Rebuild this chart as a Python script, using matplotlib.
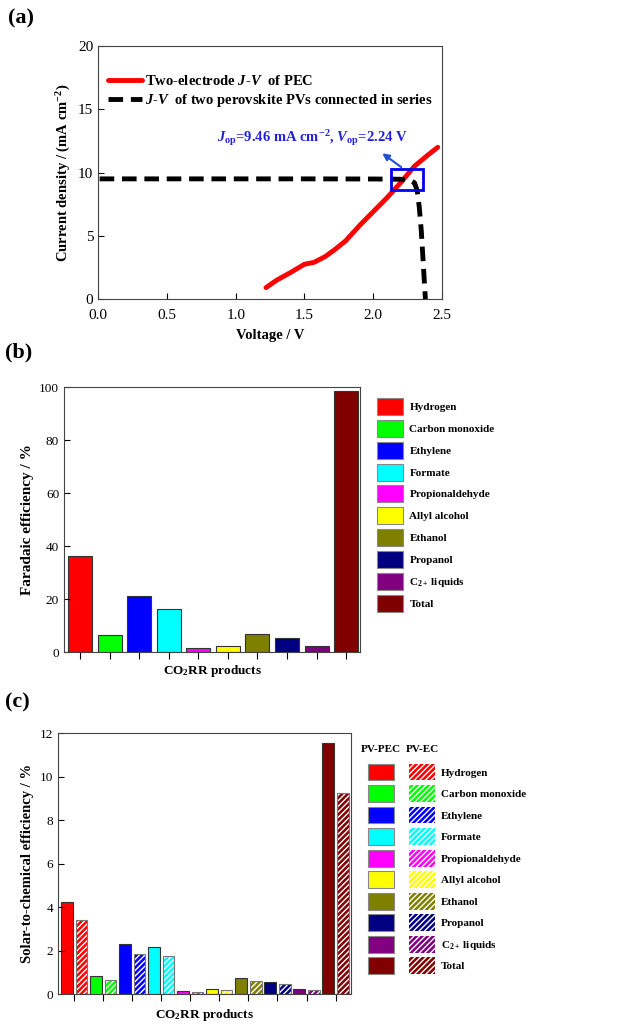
import matplotlib.pyplot as plt
import numpy as np
from matplotlib.patches import Rectangle, Patch

plt.rcParams['font.family'] = 'Liberation Serif'
plt.rcParams['mathtext.fontset'] = 'custom'
plt.rcParams['mathtext.rm'] = 'Liberation Serif:bold'
plt.rcParams['mathtext.it'] = 'Liberation Serif:italic:bold'
plt.rcParams['mathtext.bf'] = 'Liberation Serif:bold'
plt.rcParams['hatch.linewidth'] = 1.0

# (a) J-V curves
pec_v = [1.22, 1.30, 1.40, 1.50, 1.57, 1.65, 1.72, 1.80, 1.90, 2.00, 2.10, 2.20, 2.30, 2.40, 2.47]
pec_j = [0.9, 1.5, 2.1, 2.75, 2.9, 3.35, 3.9, 4.6, 5.8, 6.9, 8.0, 9.2, 10.5, 11.4, 12.0]
pv_v = [0.01, 0.5, 1.0, 1.5, 2.0, 2.2, 2.26, 2.30, 2.32, 2.335, 2.35, 2.36, 2.37, 2.38]
pv_j = [9.5, 9.5, 9.5, 9.5, 9.49, 9.47, 9.42, 9.2, 8.6, 7.3, 5.4, 3.6, 1.8, 0.0]

# (b) Faradaic efficiency
products = ['Hydrogen', 'Carbon monoxide', 'Ethylene', 'Formate', 'Propionaldehyde',
            'Allyl alcohol', 'Ethanol', 'Propanol', 'C$_{2+}$ liquids', 'Total']
fe = [36.3, 6.5, 21.3, 16.5, 1.6, 2.5, 6.9, 5.4, 2.5, 98.7]

# (c) solar-to-chemical efficiency
stc_pec = [4.25, 0.83, 2.33, 2.18, 0.17, 0.25, 0.75, 0.57, 0.26, 11.55]
stc_ec = [3.41, 0.67, 1.84, 1.75, 0.12, 0.20, 0.60, 0.46, 0.20, 9.24]

colors = ['#FF0000', '#00FF00', '#0000FF', '#00FFFF', '#FF00FF',
          '#FFFF00', '#808000', '#000080', '#800080', '#800000']
edge = '#333333'
leg_font = {'weight': 'bold', 'size': 8}

fig = plt.figure(figsize=(6.34, 10.24), dpi=100)

# ---------- (a)
ax1 = fig.add_axes([0.155, 0.708, 0.542, 0.247])
ax1.plot(pec_v, pec_j, color='red', lw=3.5, solid_capstyle='round',
         label='Two-electrode $J$-$V$  of PEC')
ax1.plot(pv_v, pv_j, color='black', lw=3.5, ls=(0, (3, 1.6)),
         label='$J$-$V$  of two perovskite PVs connected in series')
ax1.add_patch(Rectangle((2.13, 8.62), 0.23, 1.63, fill=False, ec='#0000EE', lw=2, zorder=5))
ax1.annotate('', xy=(2.05, 11.65), xytext=(2.22, 10.3),
             arrowprops=dict(arrowstyle='-|>', color='#1f4fd0', lw=1.5, mutation_scale=10))
ax1.text(1.56, 12.75, '$J_{\\mathrm{op}}$=9.46 mA cm$^{\\mathrm{-2}}$, $V_{\\mathrm{op}}$=2.24 V',
         color='#2222DD', fontsize=10.5, fontweight='bold', ha='center', va='center')
ax1.set_xlim(0, 2.5)
ax1.set_ylim(0, 20)
ax1.set_xticks(np.arange(0, 2.51, 0.5))
ax1.set_yticks(np.arange(0, 21, 5))
ax1.tick_params(direction='in', labelsize=11, length=4)
ax1.tick_params(axis='x', pad=7)
ax1.set_xlabel('Voltage / V', fontsize=10.5, fontweight='bold', labelpad=5)
ax1.set_ylabel('Current density / (mA cm$^{\\mathrm{-2}}$)', fontsize=10.5, fontweight='bold')
ax1.legend(loc='upper left', bbox_to_anchor=(0.0, 0.93), frameon=False,
           prop={'weight': 'bold', 'size': 10.5}, handlelength=2.3, handletextpad=0.2,
           labelspacing=0.3, borderaxespad=0.3)
fig.text(0.013, 0.982, '(a)', fontsize=16, fontweight='bold', va='center')

# ---------- (b)
ax2 = fig.add_axes([0.101, 0.363, 0.467, 0.259])
x = np.arange(1, len(products) + 1)
ax2.bar(x, fe, width=0.81, color=colors, edgecolor=edge, lw=0.8)
ax2.set_xlim(0.46, 10.47)
ax2.set_ylim(0, 100)
ax2.set_xticks(x)
ax2.tick_params(axis='x', direction='out', length=5, labelbottom=False)
ax2.tick_params(axis='y', direction='in', labelsize=9.5, length=4)
ax2.set_xlabel('CO$_2$RR products', fontsize=9.5, fontweight='bold', labelpad=3)
ax2.set_ylabel('Faradaic efficiency / %', fontsize=11, fontweight='bold')
handles_b = [Patch(facecolor=c, edgecolor='#888888', lw=0.8) for c in colors]
fig.legend(handles_b, products, loc='upper left', bbox_to_anchor=(0.588, 0.6156),
           frameon=False, prop=leg_font, borderaxespad=0,
           handlelength=2.35, handleheight=1.97, handletextpad=0.54, labelspacing=0.44)
fig.text(0.008, 0.656, '(b)', fontsize=16, fontweight='bold', va='center')

# ---------- (c)
ax3 = fig.add_axes([0.0915, 0.029, 0.462, 0.255])
ax3.bar(x - 0.25, stc_pec, width=0.4, color=colors, edgecolor=edge, lw=0.8)
ax3.bar(x + 0.25, stc_ec, width=0.4, color=colors, edgecolor='white', hatch='//////', lw=0)
ax3.bar(x + 0.25, stc_ec, width=0.4, fill=False, edgecolor='#777777', lw=0.8)
ax3.set_xlim(0.44, 10.53)
ax3.set_ylim(0, 12)
ax3.set_xticks(x)
ax3.tick_params(axis='x', direction='out', length=5, labelbottom=False)
ax3.tick_params(axis='y', direction='in', labelsize=9.5, length=4)
ax3.set_xlabel('CO$_2$RR products', fontsize=9.5, fontweight='bold', labelpad=4)
ax3.set_ylabel('Solar-to-chemical efficiency / %', fontsize=10.5, fontweight='bold')
handles_pec = [Patch(facecolor=c, edgecolor='#888888', lw=0.8) for c in colors]
handles_ec = [Patch(facecolor=c, edgecolor='white', hatch='//////', lw=0.0) for c in colors]
fig.legend(handles_pec + handles_ec, [''] * len(products) + products, ncol=2,
           loc='upper left', bbox_to_anchor=(0.5735, 0.2587), frameon=False,
           prop=leg_font, borderaxespad=0, handlelength=2.35, handleheight=1.97,
           handletextpad=0.54, labelspacing=0.41, columnspacing=0.8)
fig.text(0.601, 0.2676, 'PV-PEC', fontsize=8, fontweight='bold', ha='center', va='center')
fig.text(0.666, 0.2676, 'PV-EC', fontsize=8, fontweight='bold', ha='center', va='center')
fig.text(0.008, 0.314, '(c)', fontsize=16, fontweight='bold', va='center')

for ax in (ax1, ax2, ax3):
    for s in ax.spines.values():
        s.set_color('#444444')

fig.savefig('out.png', dpi=100)
